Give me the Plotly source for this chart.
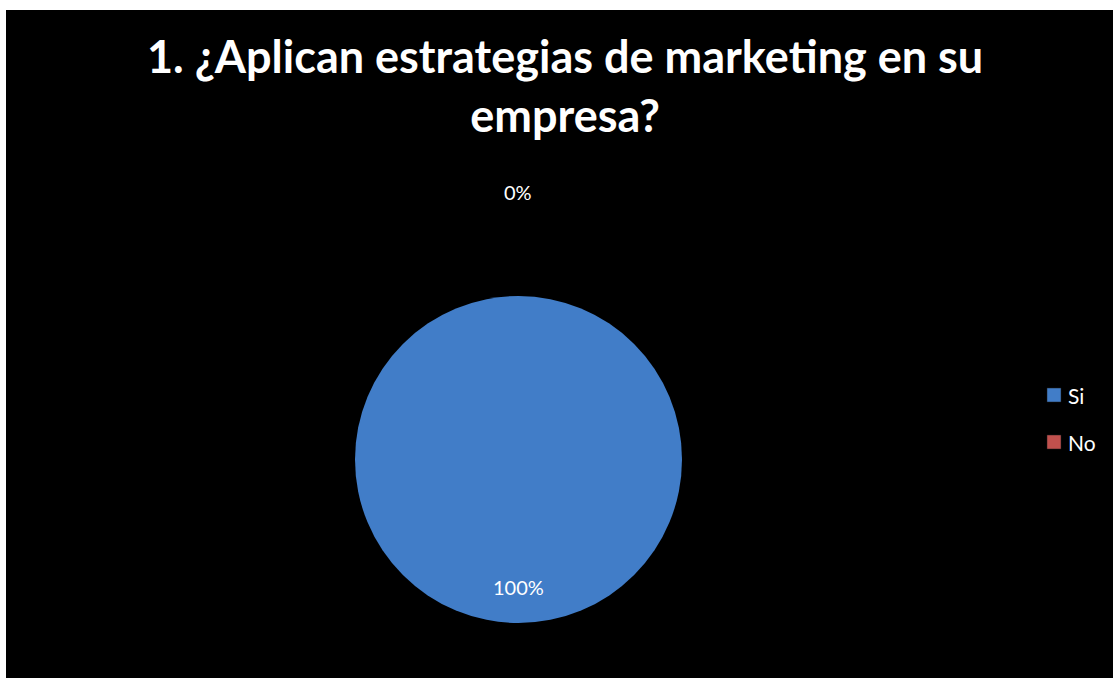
import plotly.graph_objects as go

# Survey answers for question 1
labels = ["Si", "No"]
values = [100, 0]
colors = ["#417dc8", "#c0504d"]
# a zero-width non-joiner keeps "ti" from merging into a ligature
title_lines = ["1. ¿Aplican estrategias de marke\u200cting en su", "empresa?"]

W, H = 1113, 678
FONT = "Lato, Carlito, Calibri, sans-serif"
total = sum(values)
percents = [f"{round(v / total * 100)}%" for v in values]

fig = go.Figure()

fig.add_trace(go.Pie(
    labels=labels,
    values=values,
    marker=dict(colors=colors, line=dict(width=0)),
    textinfo="none",
    hoverinfo="label+percent",
    sort=False,
    direction="clockwise",
    rotation=0,
    showlegend=False,
    domain=dict(x=[355 / W, 682 / W], y=[1 - 623 / H, 1 - 296 / H]),
))

annotations = []

# Chart title, two centred lines
annotations.append(dict(
    x=565 / W, y=1 - 27 / H, xref="paper", yref="paper",
    text="<br>".join(title_lines), showarrow=False, xanchor="center", yanchor="top",
    align="center",
    font=dict(family=FONT, size=45, color="white", weight="bold"),
))

# Data labels: the empty slice sits at the top, the full slice label near the bottom
label_pos = [(518, 587), (518, 192)]
for (px, py), txt in zip(label_pos, percents):
    annotations.append(dict(
        x=px / W, y=1 - py / H, xref="paper", yref="paper",
        text=txt, showarrow=False, xanchor="center", yanchor="middle",
        font=dict(family=FONT, size=20, color="white"),
    ))

# Black chart area and legend entries
shapes = [dict(type="rect", xref="paper", yref="paper", x0=6 / W, x1=1, y0=0, y1=1 - 10 / H,
               fillcolor="black", line=dict(width=0), layer="below")]
legend_y = [395, 442]
for name, col, ly in zip(labels, colors, legend_y):
    shapes.append(dict(type="rect", xref="paper", yref="paper",
                       x0=1047 / W, x1=1061 / W, y0=1 - (ly + 7) / H, y1=1 - (ly - 7) / H,
                       fillcolor=col, line=dict(color="#1e1e1e", width=0.5), layer="above"))
    annotations.append(dict(
        x=1066 / W, y=1 - ly / H, xref="paper", yref="paper",
        text=name, showarrow=False, xanchor="left", yanchor="middle",
        font=dict(family=FONT, size=21, color="white"),
    ))

fig.update_layout(
    width=W, height=H,
    margin=dict(l=0, r=0, t=0, b=0),
    paper_bgcolor="white",
    plot_bgcolor="black",
    shapes=shapes,
    annotations=annotations,
)

fig.write_html("out.html")
